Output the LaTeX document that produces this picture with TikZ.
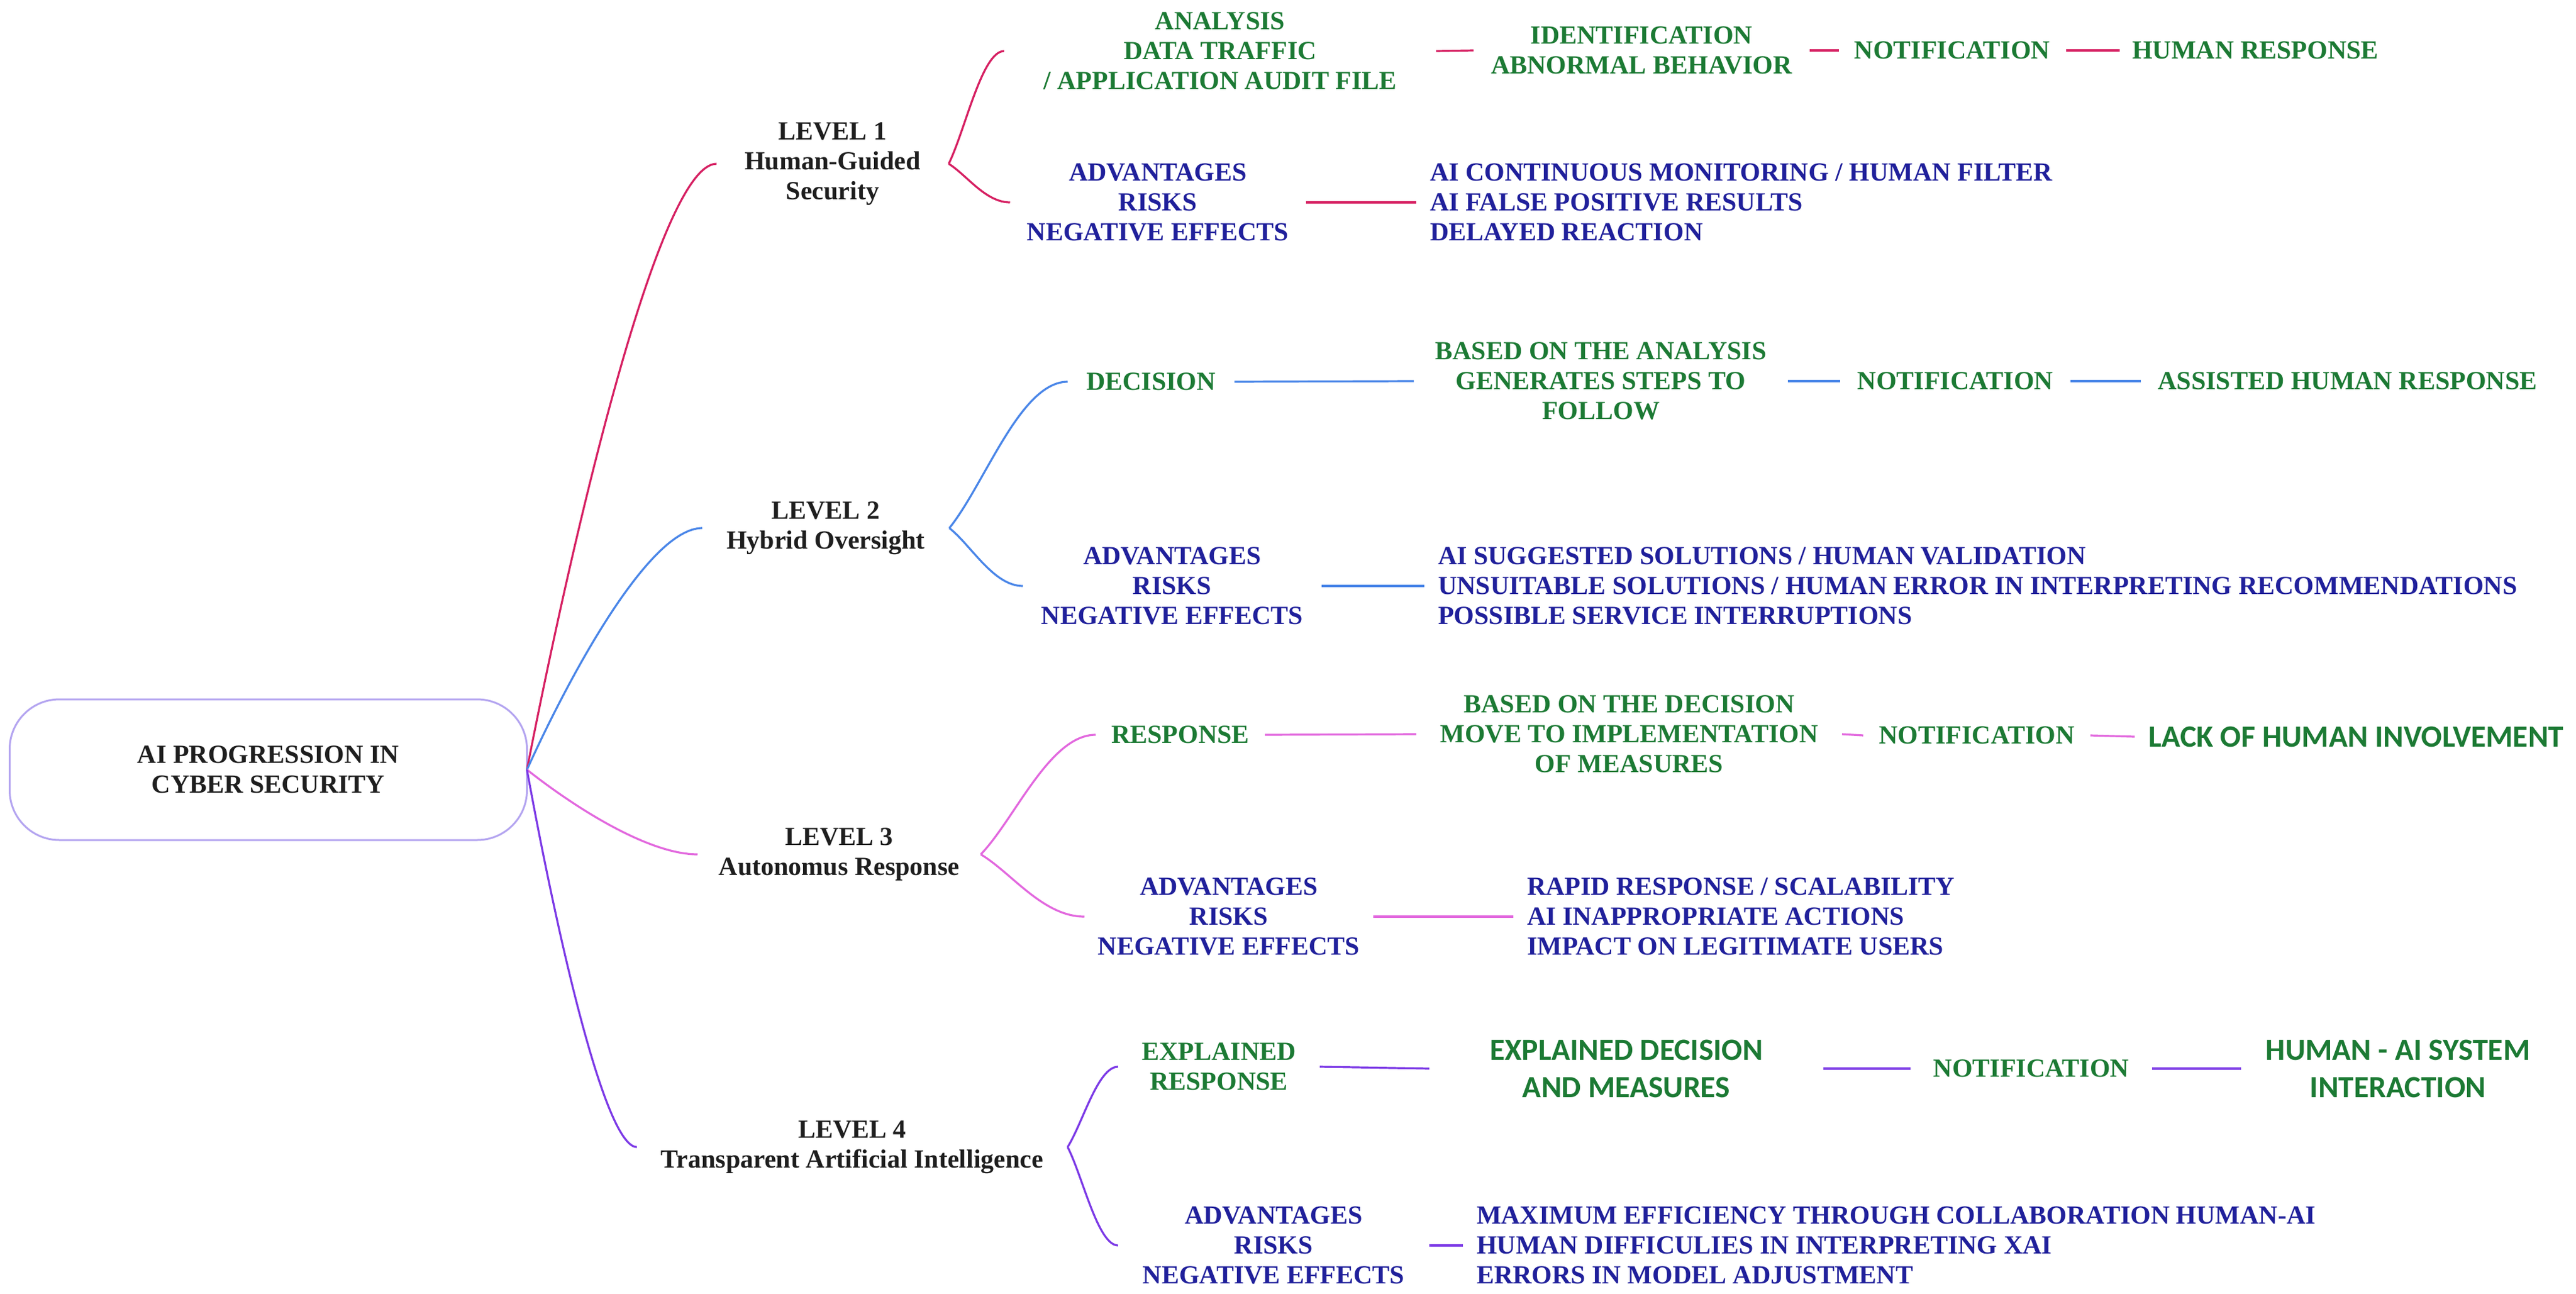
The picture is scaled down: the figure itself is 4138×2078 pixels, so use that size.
\documentclass[tikz,border=0pt]{standalone}
\usepackage{fontspec}
\setmainfont{Liberation Serif}
\newfontfamily\carlito{Carlito}
\usetikzlibrary{calc}
\definecolor{ink}{RGB}{30,30,30}
\definecolor{grn}{RGB}{28,122,52}
\definecolor{blu}{RGB}{32,32,155}
\definecolor{cA}{RGB}{214,32,98}
\definecolor{cB}{RGB}{74,134,232}
\definecolor{cC}{RGB}{226,104,222}
\definecolor{cD}{RGB}{124,58,230}
\definecolor{rootc}{RGB}{180,165,240}
\tikzset{
  every node/.style={inner sep=0pt, outer sep=0pt},
  base/.style={font=\fontsize{10.5}{12}\selectfont\bfseries, align=center},
  lvl/.style={base, text=ink},
  gtxt/.style={base, text=grn},
  btxt/.style={base, text=blu},
  stxt/.style={font=\carlito\fontsize{12.4}{15}\selectfont\bfseries, align=center, text=grn},
  desc/.style={base, text=blu, align=left, anchor=west, inner xsep=5.5pt},
  conn/.style={line width=0.8pt},
  lA/.style={conn, draw=cA},
  lB/.style={conn, draw=cB},
  lC/.style={conn, draw=cC},
  lD/.style={conn, draw=cD},
}
\newcommand\brc[3]{\draw[#1] (#2.east) .. controls ($(#2.east)!0.3!(#3.west)$) and ($(#3.west)!0.4!(#3.west -| #2.east)$) .. (#3.west);}
\newcommand\rtc[2]{\draw[#1] let \p1=(root.east), \p2=(#2.west) in (\p1) .. controls ({\x1+0.25*(\x2-\x1)},{\y1+0.4*(\y2-\y1)}) and ({\x2-0.3*(\x2-\x1)},\y2) .. (\p2);}
\begin{document}
\begin{tikzpicture}[x=0.25pt,y=-0.25pt]
\useasboundingbox (0,0) rectangle (4138,2078);
% root
\node[lvl, draw=rootc, line width=0.75pt, rounded corners=20pt, minimum width=207.75pt, minimum height=56.5pt] (root) at (431,1236) {AI PROGRESSION IN\\CYBER SECURITY};
% levels
\node[lvl, minimum width=93.25pt] (L1) at (1337.5,263) {LEVEL 1\\Human-Guided\\Security};
\node[lvl, minimum width=99.25pt] (L2) at (1326.5,848) {LEVEL 2\\Hybrid Oversight};
\node[lvl, minimum width=113.75pt] (L3) at (1348,1372) {LEVEL 3\\Autonomus Response};
\node[lvl, minimum width=173pt] (L4) at (1369,1842) {LEVEL 4\\Transparent Artificial Intelligence};
% level 1
\node[gtxt, minimum width=173.5pt] (A1) at (1960,82) {ANALYSIS\\DATA TRAFFIC\\/ APPLICATION AUDIT FILE};
\node[gtxt, minimum width=135pt] (I1) at (2637,81) {IDENTIFICATION\\ABNORMAL BEHAVIOR};
\node[gtxt, minimum width=91.25pt] (N1) at (3136,81) {NOTIFICATION};
\node[gtxt, minimum width=109pt] (H1) at (3623,81) {HUMAN RESPONSE};
\node[btxt, minimum width=118.75pt] (B1) at (1860,325) {ADVANTAGES\\RISKS\\NEGATIVE EFFECTS};
\node[desc] (T1) at (2275,325) {AI CONTINUOUS MONITORING / HUMAN FILTER\\AI FALSE POSITIVE RESULTS\\DELAYED REACTION};
% level 2
\node[gtxt, minimum width=67pt] (D2) at (1849,613) {DECISION};
\node[gtxt, minimum width=150.25pt] (G2) at (2571.5,612) {BASED ON THE ANALYSIS\\GENERATES STEPS TO\\FOLLOW};
\node[gtxt, minimum width=92.5pt] (N2) at (3141,612) {NOTIFICATION};
\node[gtxt, minimum width=166pt] (AH2) at (3771,612) {ASSISTED HUMAN RESPONSE};
\node[btxt, minimum width=120pt] (B2) at (1883,941) {ADVANTAGES\\RISKS\\NEGATIVE EFFECTS};
\node[desc] (T2) at (2288,941) {AI SUGGESTED SOLUTIONS / HUMAN VALIDATION\\UNSUITABLE SOLUTIONS / HUMAN ERROR IN INTERPRETING RECOMMENDATIONS\\POSSIBLE SERVICE INTERRUPTIONS};
% level 3
\node[gtxt, minimum width=68pt] (R3) at (1896,1180) {RESPONSE};
\node[gtxt, minimum width=171pt] (M3) at (2617,1179) {BASED ON THE DECISION\\MOVE TO IMPLEMENTATION\\OF MEASURES};
\node[gtxt, minimum width=91.25pt] (N3) at (3175.5,1181) {NOTIFICATION};
\node[stxt, minimum width=178pt] (LH3) at (3785,1183) {LACK OF HUMAN INVOLVEMENT};
\node[btxt, minimum width=116pt] (B3) at (1974,1472) {ADVANTAGES\\RISKS\\NEGATIVE EFFECTS};
\node[desc] (T3) at (2431,1472) {RAPID RESPONSE / SCALABILITY\\AI INAPPROPRIATE ACTIONS\\IMPACT ON LEGITIMATE USERS};
% level 4
\node[gtxt, minimum width=81pt] (E4) at (1958,1713) {EXPLAINED\\RESPONSE};
\node[stxt, minimum width=158.25pt] (X4) at (2612.5,1716) {EXPLAINED DECISION\\AND MEASURES};
\node[gtxt, minimum width=97pt] (N4) at (3263,1716) {NOTIFICATION};
\node[stxt, minimum width=126pt] (HA4) at (3852,1716) {HUMAN - AI SYSTEM\\INTERACTION};
\node[btxt, minimum width=125pt] (B4) at (2046,2000) {ADVANTAGES\\RISKS\\NEGATIVE EFFECTS};
\node[desc] (T4) at (2350,2000) {MAXIMUM EFFICIENCY THROUGH COLLABORATION HUMAN-AI\\HUMAN DIFFICULIES IN INTERPRETING XAI\\ERRORS IN MODEL ADJUSTMENT};
% root connectors
\rtc{lA}{L1}
\rtc{lB}{L2}
\rtc{lC}{L3}
\rtc{lD}{L4}
% level 1 connectors
\brc{lA}{L1}{A1}
\brc{lA}{L1}{B1}
\draw[lA] (A1.east) -- (I1.west);
\draw[lA] (I1.east) -- (N1.west);
\draw[lA] (N1.east) -- (H1.west);
\draw[lA] (B1.east) -- (T1.west);
% level 2 connectors
\brc{lB}{L2}{D2}
\brc{lB}{L2}{B2}
\draw[lB] (D2.east) -- (G2.west);
\draw[lB] (G2.east) -- (N2.west);
\draw[lB] (N2.east) -- (AH2.west);
\draw[lB] (B2.east) -- (T2.west);
% level 3 connectors
\brc{lC}{L3}{R3}
\brc{lC}{L3}{B3}
\draw[lC] (R3.east) -- (M3.west);
\draw[lC] (M3.east) -- (N3.west);
\draw[lC] (N3.east) -- (LH3.west);
\draw[lC] (B3.east) -- (T3.west);
% level 4 connectors
\brc{lD}{L4}{E4}
\brc{lD}{L4}{B4}
\draw[lD] (E4.east) -- (X4.west);
\draw[lD] (X4.east) -- (N4.west);
\draw[lD] (N4.east) -- (HA4.west);
\draw[lD] (B4.east) -- (T4.west);
\end{tikzpicture}
\end{document}
